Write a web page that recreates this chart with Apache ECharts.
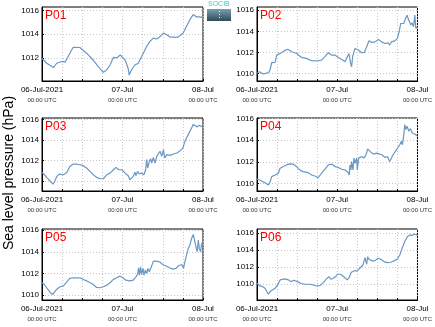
<!DOCTYPE html>
<html>
<head>
<meta charset="utf-8">
<script src="https://cdn.jsdelivr.net/npm/echarts@6/dist/echarts.min.js"></script>
<style>
  html, body { margin: 0; padding: 0; background: #fff; }
  #chart { width: 435px; height: 327px; }
</style>
</head>
<body>
<div id="chart"></div>
<script>
// Sea level pressure at six stations, 06-Jul-2021 00:00 UTC to 08-Jul-2021 00:00 UTC.
// Each point is [hours since 06-Jul-2021 00:00 UTC, pressure in hPa].
const stationNames = ['P01', 'P02', 'P03', 'P04', 'P05', 'P06'];

const p01 = [[0,1011.97],[1.4,1011.55],[3.4,1011.18],[4.4,1011.55],[5.9,1011.7],[6.9,1011.65],[8.3,1012.4],[9.3,1012.9],[9.8,1012.97],[11.3,1012.88],[13.3,1012.4],[15.3,1011.8],[17.3,1011.1],[18.3,1010.78],[19.3,1011.0],[20.3,1011.4],[21.3,1012.05],[22.3,1012.0],[23.3,1012.25],[23.8,1012.3],[24.8,1011.8],[25.7,1011.1],[26.0,1010.55],[26.7,1011.0],[27.2,1010.9],[27.7,1011.4],[28.7,1011.55],[29.2,1011.7],[30.2,1012.4],[31.2,1012.97],[32.2,1013.4],[33.2,1013.67],[34.2,1013.6],[35.2,1013.8],[36.2,1014.1],[37.2,1013.96],[38.2,1013.76],[39.2,1013.76],[39.9,1013.73],[40.2,1013.6],[40.5,1013.75],[41.2,1013.9],[42.1,1014.1],[43.1,1014.67],[44.1,1015.23],[45.1,1015.66],[46.1,1015.46],[47.1,1015.46],[48,1015.4]];

const p02 = [[0,1010.03],[0.7,1010.18],[1.9,1009.96],[2.4,1009.87],[3.4,1010.09],[3.9,1010.34],[4.4,1011.03],[4.9,1010.97],[5.4,1011.06],[5.9,1011.75],[6.4,1011.9],[7.4,1012.0],[8.4,1012.2],[9.2,1012.3],[10.4,1012.07],[11.9,1011.9],[13.3,1011.53],[14.8,1011.44],[16.3,1011.22],[17.8,1011.19],[19.3,1011.28],[20.3,1011.6],[21.3,1011.97],[22.3,1011.75],[23.3,1011.75],[24.3,1011.53],[25.3,1011.35],[26.3,1011.13],[26.8,1011.44],[27.5,1011.9],[28.0,1010.97],[28.3,1010.65],[28.6,1011.6],[29.3,1012.38],[30.3,1012.23],[31.3,1011.97],[32.1,1012.0],[32.8,1012.54],[33.5,1013.1],[34.3,1012.95],[35.3,1013.0],[36.3,1013.23],[37.3,1013.0],[38.3,1012.85],[38.7,1012.76],[39.2,1012.9],[39.7,1012.7],[40.2,1013.0],[41.2,1013.1],[42.0,1013.33],[42.5,1013.96],[43.0,1014.74],[43.4,1014.9],[43.9,1014.74],[44.4,1015.2],[44.9,1015.53],[45.2,1015.2],[45.5,1015.0],[46.0,1014.6],[46.4,1014.8],[46.8,1014.43],[47.2,1015.53],[47.5,1014.27],[48,1014.43]];

const p03 = [[0,1010.82],[0.7,1010.59],[1.4,1010.33],[2.4,1010.0],[3.2,1009.67],[3.7,1009.87],[4.4,1010.43],[5.2,1010.66],[6.4,1010.59],[7.4,1010.82],[8.3,1011.41],[9.3,1011.64],[10.3,1011.64],[11.3,1011.57],[12.3,1011.48],[13.3,1011.25],[14.3,1010.92],[15.3,1010.59],[16.3,1010.33],[17.3,1010.2],[18.3,1010.2],[19.3,1010.59],[20.3,1010.75],[21.3,1011.08],[22.1,1011.31],[22.8,1011.08],[23.8,1011.08],[24.8,1010.75],[25.7,1010.49],[26.2,1010.1],[26.7,1009.93],[27.2,1010.43],[27.7,1010.85],[28.0,1010.52],[28.5,1010.92],[29.0,1010.66],[29.7,1010.75],[30.4,1010.59],[30.9,1011.08],[31.2,1012.07],[31.5,1011.25],[32.0,1011.9],[32.4,1012.16],[32.7,1011.74],[33.2,1012.3],[33.7,1011.74],[34.2,1012.39],[34.7,1012.56],[35.2,1012.89],[35.7,1012.39],[36.2,1013.05],[36.6,1012.23],[37.2,1012.56],[38.2,1012.49],[39.2,1012.62],[40.2,1012.72],[41.2,1012.95],[42.0,1013.2],[42.6,1013.87],[43.6,1014.52],[44.6,1015.18],[45.1,1015.51],[45.6,1015.44],[46.3,1015.28],[46.9,1015.44],[48,1015.25]];

const p04 = [[0,1010.41],[1.4,1010.22],[2.4,1010.07],[3.4,1009.85],[3.9,1010.16],[4.4,1010.63],[5.4,1010.78],[6.4,1010.94],[6.9,1011.4],[7.9,1011.56],[8.8,1011.71],[9.8,1011.81],[10.8,1011.78],[11.8,1011.56],[12.8,1011.25],[13.8,1011.09],[15.3,1011.0],[16.3,1010.78],[17.3,1010.69],[18.3,1010.53],[19.3,1010.94],[20.3,1011.31],[21.3,1011.71],[21.8,1011.56],[22.5,1011.78],[23.3,1011.56],[24.3,1011.47],[25.3,1011.31],[26.3,1011.25],[27.1,1011.09],[27.6,1010.78],[27.8,1011.71],[28.1,1011.25],[28.3,1012.03],[28.7,1011.25],[29.0,1012.34],[29.3,1011.87],[29.8,1012.34],[30.0,1011.25],[30.4,1012.34],[30.9,1012.18],[31.4,1012.49],[32.0,1012.34],[32.6,1012.65],[33.1,1013.2],[33.8,1012.96],[34.8,1012.71],[35.8,1012.8],[36.3,1012.96],[37.3,1012.65],[38.3,1012.4],[39.0,1012.49],[39.7,1012.02],[40.2,1011.87],[40.7,1012.65],[41.2,1012.49],[41.7,1013.1],[42.2,1013.27],[42.7,1013.58],[43.2,1013.89],[43.5,1013.58],[43.9,1014.51],[44.2,1015.44],[44.5,1014.98],[44.9,1015.29],[45.4,1014.82],[45.9,1015.07],[46.4,1014.66],[46.8,1014.51],[47.2,1014.57],[48,1014.35]];

const p05 = [[0,1011.14],[0.7,1010.98],[1.4,1010.68],[2.4,1010.25],[3.2,1010.06],[3.7,1010.12],[4.4,1010.55],[5.4,1010.77],[6.4,1010.86],[7.4,1011.23],[8.3,1011.54],[9.3,1011.6],[10.8,1011.6],[11.8,1011.54],[12.8,1011.38],[13.8,1011.23],[15.1,1011.02],[16.3,1010.71],[17.3,1010.68],[18.3,1010.77],[19.3,1010.92],[20.3,1011.14],[21.3,1011.45],[22.3,1011.6],[23.3,1011.75],[24.1,1011.6],[25.0,1011.38],[26.2,1011.32],[27.2,1011.38],[28.0,1011.69],[28.5,1011.91],[28.8,1012.52],[29.1,1011.85],[29.4,1012.62],[29.7,1011.91],[30.1,1012.46],[30.4,1011.85],[30.8,1012.31],[31.2,1012.0],[31.6,1012.46],[32.0,1012.15],[32.4,1012.31],[32.8,1012.77],[33.2,1013.14],[34.0,1013.14],[35.0,1013.08],[36.0,1012.83],[37.0,1012.68],[38.0,1012.52],[39.0,1012.4],[40.0,1012.46],[40.7,1012.71],[41.2,1012.55],[41.7,1012.83],[42.2,1012.46],[42.6,1013.08],[43.1,1013.69],[43.6,1014.31],[44.1,1014.62],[44.6,1015.23],[45.1,1015.6],[45.6,1015.48],[45.9,1014.46],[46.3,1014.0],[46.6,1015.08],[46.9,1014.31],[47.3,1014.0],[47.6,1014.77],[48,1014.31]];

const p06 = [[0,1010.12],[0.7,1009.84],[1.6,1009.73],[2.4,1009.53],[2.9,1009.33],[3.4,1008.82],[3.9,1009.14],[4.6,1009.33],[5.4,1009.53],[6.2,1009.92],[6.9,1010.51],[7.4,1010.71],[8.4,1010.63],[9.4,1010.51],[10.1,1010.31],[11.1,1010.47],[12.1,1010.31],[13.1,1010.12],[14.3,1010.0],[15.8,1010.0],[16.8,1009.92],[17.8,1009.8],[18.8,1009.84],[19.8,1010.2],[20.8,1010.63],[21.5,1010.9],[22.1,1010.59],[22.8,1010.71],[23.5,1010.9],[24.1,1011.18],[25.0,1011.18],[25.7,1010.98],[26.2,1011.1],[27.0,1010.51],[27.7,1010.9],[28.2,1011.41],[29.0,1011.57],[30.0,1011.57],[30.7,1011.88],[31.2,1011.96],[31.7,1012.27],[32.0,1012.35],[32.3,1013.14],[32.6,1012.67],[32.8,1012.35],[33.1,1013.25],[33.4,1012.98],[33.8,1013.14],[34.4,1012.75],[35.2,1012.75],[36.2,1013.06],[37.0,1012.94],[38.0,1012.67],[39.0,1012.55],[40.0,1012.59],[41.0,1012.75],[42.0,1012.98],[42.7,1013.45],[43.4,1014.24],[44.2,1015.02],[45.0,1015.61],[45.7,1015.8],[46.4,1015.73],[47.0,1015.92],[48,1015.73]];

const stationSeries = [p01, p02, p03, p04, p05, p06];

// Visible pressure range of each panel (hPa)
const yMins = [1010.05, 1009.3, 1009.0, 1009.3, 1009.55, 1008.15];
const yMaxs = [1016.3, 1016.3, 1016.15, 1016.05, 1016.1, 1016.5];
const yTickValues = [1010, 1012, 1014, 1016];

// Time axis: gridlines every 6 h, labels at midnight
const xStartHour = 0, xEndHour = 48, xStepHours = 6;
const xLabelHours = [0, 24, 48];
const xLabelDates = ['06-Jul-2021', '07-Jul', '08-Jul'];
const xLabelTimes = ['00:00 UTC', '00:00 UTC', '00:00 UTC'];

const yTitle = 'Sea level pressure (hPa)';

// Panel layout (pixels)
const colLefts = [42, 257];
const rowTops = [7, 118, 229];
const rowHeights = [74, 73, 71];
const panelWidth = 161;

const lineColor = '#6a97c4';
const gridColor = '#c8c8c8';
const fontFamily = 'Liberation Sans, Arial, sans-serif';

const chart = echarts.init(document.getElementById('chart'), null, { renderer: 'canvas' });

const grids = [], xAxes = [], yAxes = [], series = [], titles = [];
stationSeries.forEach((data, i) => {
  const col = i % 2, row = Math.floor(i / 2);
  const left = colLefts[col], top = rowTops[row];
  const ticks = yTickValues.filter(v => v >= yMins[i] && v <= yMaxs[i]);
  grids.push({
    left: left, top: top, width: panelWidth, height: rowHeights[row],
    show: true, borderColor: '#000', borderWidth: 1, backgroundColor: '#fff'
  });
  xAxes.push({
    type: 'value', gridIndex: i, min: xStartHour, max: xEndHour, interval: xStepHours,
    axisLine: { show: true, lineStyle: { color: '#000', width: 1 } },
    axisTick: { show: true, inside: true, length: 2, lineStyle: { color: '#000' } },
    splitLine: { show: true, lineStyle: { color: gridColor, type: [1, 2], width: 1 } },
    axisLabel: {
      show: true, margin: 4, showMinLabel: true, showMaxLabel: true,
      formatter: (v) => {
        const k = xLabelHours.indexOf(Math.round(v));
        return k < 0 ? '' : '{d|' + xLabelDates[k] + '}\n{t|' + xLabelTimes[k] + '}';
      },
      rich: {
        d: { fontSize: 8, fontFamily: fontFamily, color: '#000', lineHeight: 10 },
        t: { fontSize: 6, fontFamily: fontFamily, color: '#333', lineHeight: 10 }
      }
    }
  });
  yAxes.push({
    type: 'value', gridIndex: i, min: yMins[i], max: yMaxs[i], scale: true,
    axisLine: { show: true, lineStyle: { color: '#000', width: 1 } },
    axisTick: { show: true, inside: true, length: 2, lineStyle: { color: '#000' }, customValues: ticks },
    splitLine: { show: true, lineStyle: { color: gridColor, type: [1, 2], width: 1 } },
    axisLabel: {
      show: true, margin: 3, fontSize: 8, color: '#000', fontFamily: fontFamily,
      customValues: ticks,
      formatter: (v) => String(Math.round(v))
    }
  });
  series.push({
    type: 'line', xAxisIndex: i, yAxisIndex: i, data: data,
    showSymbol: false, symbol: 'none', silent: true, animation: false,
    lineStyle: { color: lineColor, width: 1.2 }
  });
  titles.push({
    text: stationNames[i], left: left + 3, top: top + 3, padding: 0,
    textStyle: { color: '#ff0000', fontSize: 12, fontWeight: 'normal', fontFamily: fontFamily, lineHeight: 12 }
  });
});

chart.setOption({
  animation: false,
  backgroundColor: '#fff',
  title: titles,
  grid: grids,
  xAxis: xAxes,
  yAxis: yAxes,
  series: series,
  graphic: [
    {
      type: 'text', x: 2, y: 173, rotation: Math.PI / 2,
      style: { text: yTitle, fill: '#000', fontSize: 14, fontFamily: fontFamily,
        textAlign: 'center', textVerticalAlign: 'top' }
    },
    {
      type: 'group', x: 207, y: 1,
      children: [
        { type: 'text', x: 1, y: 0,
          style: { text: 'SOCIB', fill: '#3ec3d3', fontSize: 7, fontFamily: fontFamily } },
        { type: 'rect', shape: { x: 0, y: 8, width: 24, height: 12 },
          style: { fill: new echarts.graphic.LinearGradient(0, 0, 0, 1, [
            { offset: 0, color: '#7a9fae' }, { offset: 1, color: '#2e4b5a' } ]) } },
        { type: 'line', shape: { x1: 12.5, y1: 10, x2: 12.5, y2: 19 },
          style: { stroke: '#ffffff', lineWidth: 1, lineDash: [1, 2] } }
      ]
    }
  ]
});
</script>
</body>
</html>
